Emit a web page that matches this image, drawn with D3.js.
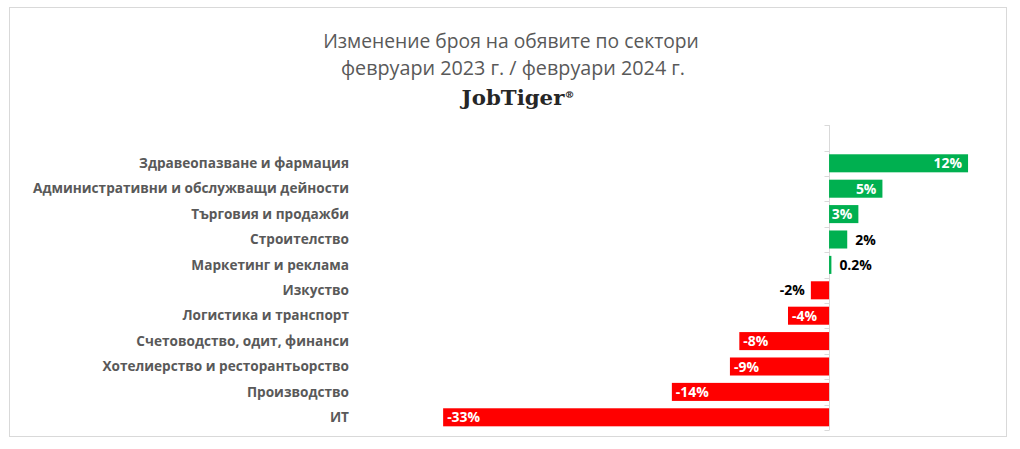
<!DOCTYPE html>
<html>
<head>
<meta charset="utf-8">
<script src="https://cdn.jsdelivr.net/npm/d3@7"></script>
<style>
  html, body { margin: 0; padding: 0; background: #fff; }
  svg { display: block; }
</style>
</head>
<body>
<svg id="chart" width="1020" height="449"></svg>
<script>
// ---- data ----
const categories = [
  "Здравеопазване и фармация",
  "Административни и обслужващи дейности",
  "Търговия и продажби",
  "Строителство",
  "Маркетинг и реклама",
  "Изкуство",
  "Логистика и транспорт",
  "Счетоводство, одит, финанси",
  "Хотелиерство и ресторантьорство",
  "Производство",
  "ИТ"
];
const values = [11.85, 4.55, 2.5, 1.55, 0.2, -1.55, -3.5, -7.65, -8.45, -13.4, -32.9];
const valueLabels = ["12%", "5%", "3%", "2%", "0.2%", "-2%", "-4%", "-8%", "-9%", "-14%", "-33%"];
const titleLines = ["Изменение броя на обявите по сектори", "февруари 2023 г. / февруари 2024 г."];
const brand = "JobTiger";

// ---- layout ----
const W = 1020, H = 449;
const svg = d3.select("#chart");
const SANS = "'Open Sans', 'Noto Sans', 'DejaVu Sans', sans-serif";

// fit font size of a text element so its width matches target
function fitWidth(sel, target) {
  const node = sel.node();
  const fs = parseFloat(sel.attr("font-size"));
  const w = node.getComputedTextLength();
  sel.attr("font-size", (fs * target / w).toFixed(2));
}

// chart border
svg.append("rect")
  .attr("x", 9.5).attr("y", 7.5)
  .attr("width", 997).attr("height", 429)
  .attr("fill", "#fff").attr("stroke", "#d9d9d9").attr("stroke-width", 1);

// title
const cx = 511;
const t1 = svg.append("text").attr("x", cx).attr("y", 48)
  .attr("text-anchor", "middle").attr("font-family", SANS).attr("font-size", 19)
  .attr("fill", "#595959").text(titleLines[0]);
fitWidth(t1, 376);
const t2 = svg.append("text").attr("x", cx + 2).attr("y", 75)
  .attr("text-anchor", "middle").attr("font-family", SANS).attr("font-size", 19)
  .attr("fill", "#595959").text(titleLines[1]);
fitWidth(t2, 344);
const b = svg.append("text").attr("x", cx + 7).attr("y", 105)
  .attr("text-anchor", "middle")
  .attr("font-family", "'DejaVu Serif', 'Liberation Serif', serif")
  .attr("font-weight", "bold").attr("font-size", 19).attr("fill", "#262626");
b.append("tspan").text(brand);
b.append("tspan").attr("font-size", 10).attr("dy", -7).text("®");
fitWidth(b, 114);

// scales
const x = d3.scaleLinear().domain([-35, 15]).range([418.5, 1005]);
const y = d3.scaleBand().domain(categories)
  .range([150.6, 430]).paddingInner(0.29).paddingOuter(0.145);

const x0 = Math.round(x(0)) + 0.5;
const step = y.step();
const bandStart = c => y(c) - step * y.paddingInner() / 2;

// vertical axis line with tick marks at band boundaries (one empty band on top)
const axisG = svg.append("g");
const yTop = bandStart(categories[0]) - step;
const yBot = y.range()[1];
axisG.append("line").attr("x1", x0).attr("x2", x0).attr("y1", yTop).attr("y2", yBot)
  .attr("stroke", "#d9d9d9");
const tickYs = [yTop].concat(categories.map(bandStart)).concat([yBot]);
axisG.selectAll("line.tick").data(tickYs).join("line").attr("class", "tick")
  .attr("x1", x0 - 5).attr("x2", x0)
  .attr("y1", d => Math.round(d) + 0.5).attr("y2", d => Math.round(d) + 0.5)
  .attr("stroke", "#d9d9d9");

// category labels via d3 axis
const catAxis = svg.append("g").attr("transform", "translate(349,0)")
  .call(d3.axisLeft(y).tickSize(0).tickPadding(0));
catAxis.select(".domain").remove();
catAxis.selectAll("text")
  .attr("font-family", SANS).attr("font-weight", "bold").attr("font-size", 13)
  .attr("fill", "#595959").attr("dy", "0.35em");
// fit longest label to measured width
{
  const texts = catAxis.selectAll("text").nodes();
  const longest = texts[1];
  const w = longest.getComputedTextLength();
  const fs = (13 * 316 / w).toFixed(2);
  catAxis.selectAll("text").attr("font-size", fs);
}

// bars
const data = categories.map((c, i) => ({ c, v: values[i], label: valueLabels[i] }));
svg.append("g").selectAll("rect").data(data).join("rect")
  .attr("x", d => Math.min(x(0), x(d.v)))
  .attr("y", d => y(d.c))
  .attr("width", d => Math.abs(x(d.v) - x(0)))
  .attr("height", y.bandwidth())
  .attr("fill", d => d.v >= 0 ? "#00B050" : "#FF0000");

// value labels
const lblG = svg.append("g");
const labels = lblG.selectAll("text").data(data).join("text")
  .attr("font-family", SANS).attr("font-weight", "bold").attr("font-size", 12)
  .attr("y", d => y(d.c) + y.bandwidth() / 2)
  .attr("dy", "0.36em")
  .text(d => d.label);
// fit size based on "-33%" width
{
  const n = labels.nodes()[10];
  const fs = (12 * 33 / n.getComputedTextLength()).toFixed(2);
  labels.attr("font-size", fs);
}
labels.each(function(d) {
  const tw = this.getComputedTextLength();
  const bw = Math.abs(x(d.v) - x(0));
  const inside = tw + 8 < bw;
  const sel = d3.select(this);
  if (d.v >= 0) {
    if (inside) sel.attr("x", x(d.v) - 6).attr("text-anchor", "end").attr("fill", "#fff");
    else sel.attr("x", x(d.v) + 8).attr("text-anchor", "start").attr("fill", "#000");
  } else {
    if (inside) sel.attr("x", x(d.v) + 4).attr("text-anchor", "start").attr("fill", "#fff");
    else sel.attr("x", x(d.v) - 6).attr("text-anchor", "end").attr("fill", "#000");
  }
});
</script>
</body>
</html>
